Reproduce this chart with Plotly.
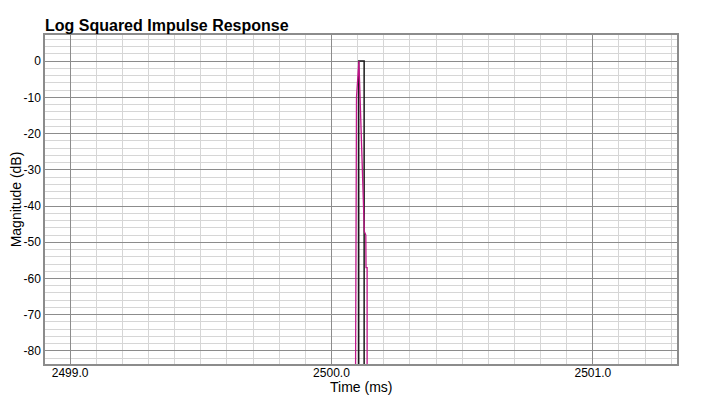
import plotly.graph_objects as go

# Data (time in ms, level in dB)
black_t = [2500.1042, 2500.1042, 2500.1250, 2500.1250]
black_db = [-150, 0, 0, -150]

magenta_t = [2500.0915, 2500.0932, 2500.0946, 2500.0958, 2500.1050,
             2500.1161, 2500.1257, 2500.1314, 2500.1322, 2500.1364, 2500.1364]
magenta_db = [-100, -60, -30, -10, 0,
              -24, -47, -48, -57, -57, -150]

y_tickvals = [0, -10, -20, -30, -40, -50, -60, -70, -80]
y_ticktext = ["0", "-10", "-20", "-30", "-40", "-50", "-60", "-70", "-80"]
x_tickvals = [2499.0, 2500.0, 2501.0]
x_ticktext = ["2499.0", "2500.0", "2501.0"]

fig = go.Figure()
fig.add_trace(go.Scatter(x=black_t, y=black_db, mode="lines",
                         line=dict(color="#1a1a1a", width=1.5),
                         showlegend=False, hoverinfo="skip"))
fig.add_trace(go.Scatter(x=magenta_t, y=magenta_db, mode="lines",
                         line=dict(color="#c0168a", width=1.3),
                         showlegend=False, hoverinfo="skip"))

font = "Liberation Sans, Arial, Helvetica, sans-serif"
W, H = 701, 395  # page body has an 8px margin
fig.update_layout(
    width=W, height=H,
    margin=dict(l=37, r=32, t=27, b=39),
    paper_bgcolor="white", plot_bgcolor="white",
    font=dict(family=font, size=12, color="#000"),
    title=dict(text="<b>Log Squared Impulse Response</b>",
               font=dict(family=font, size=16, color="#000"),
               x=37 / W, xanchor="left", y=1 - 17 / H, yanchor="middle"),
    xaxis=dict(range=[2498.904, 2501.322], tickvals=x_tickvals, ticktext=x_ticktext,
               showgrid=True, gridcolor="#8c8c8c", gridwidth=1,
               minor=dict(dtick=0.1, tick0=2499.0, showgrid=True,
                          gridcolor="#d6d6d6", gridwidth=1),
               showline=True, linecolor="#8c8c8c", linewidth=1.5, mirror=True,
               zeroline=False, ticks="", automargin=False,
               ticklabelstandoff=-3,
               tickfont=dict(size=12)),
    yaxis=dict(range=[-83.6, 7.2], tickvals=y_tickvals, ticktext=y_ticktext,
               showgrid=True, gridcolor="#8c8c8c", gridwidth=1,
               minor=dict(dtick=2, tick0=0, showgrid=True,
                          gridcolor="#d6d6d6", gridwidth=1),
               showline=True, linecolor="#8c8c8c", linewidth=1.5, mirror=True,
               zeroline=False, ticks="", automargin=False,
               title=dict(text="Magnitude (dB)", font=dict(size=14), standoff=6),
               tickfont=dict(size=12)),
    annotations=[dict(text="Time (ms)", xref="paper", yref="paper", x=0.5, y=0,
                      xanchor="center", yanchor="middle", yshift=-23,
                      showarrow=False, font=dict(size=14))],
)

fig.write_html("out.html")
